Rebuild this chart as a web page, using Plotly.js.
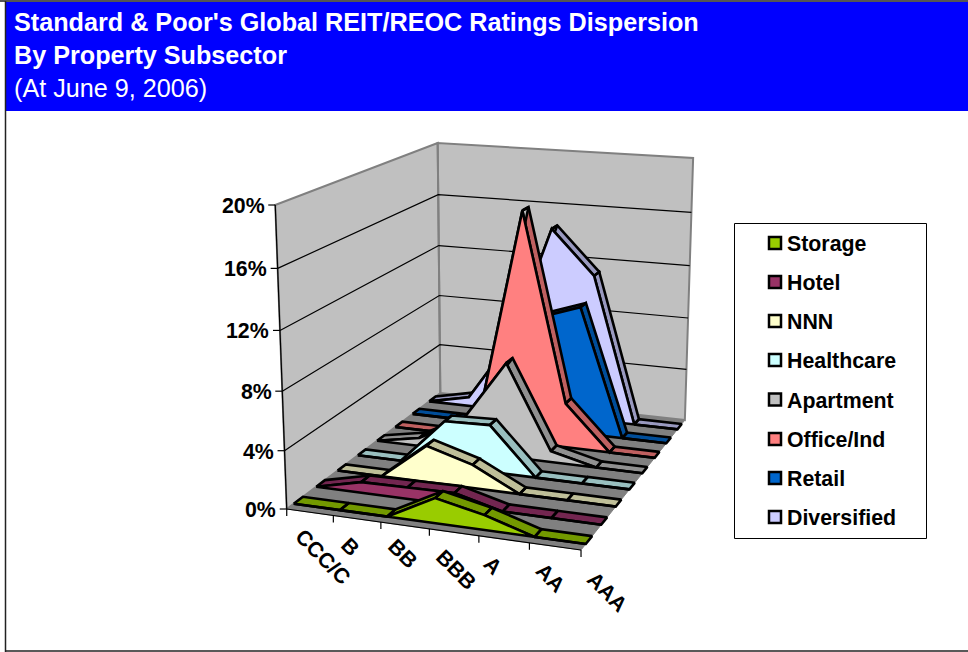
<!DOCTYPE html>
<html>
<head>
<meta charset="utf-8">
<script src="https://cdn.plot.ly/plotly-3.0.1.min.js"></script>
<style>html,body{margin:0;padding:0;background:#fff}#chart{width:968px;height:652px}</style>
</head>
<body>
<div id="chart"></div>
<script>
// Ratings along the front edge of the floor, low to high
const categories = ["CCC/C", "B", "BB", "BBB", "A", "AA", "AAA"];
// Series run from the front of the chart to the back; values are percent of issuers
const seriesNames = ["Storage", "Hotel", "NNN", "Healthcare", "Apartment", "Office/Ind", "Retail", "Diversified"];
const storage     = [0, 0,    0,   1.7,  1.0, 0, 0];
const hotel       = [0, 0.75, 0.8, 0.85, 0,   0, 0];
const nnn         = [0, 0,    2.6, 1.65, 0,   0, 0];
const healthcare  = [0, 0,    3.3, 3.4,  0,   0, 0];
const apartment   = [0, 0.6,  2.3, 6.9,  0.8, 0, 0];
const officeInd   = [0, 0,    1.4, 17.1, 3.3, 0, 0];
const retail      = [0, 0,    0,   8.5,  9.6, 0, 0];
const diversified = [0, 0.7,  5.4, 14.5, 11.2, 0, 0];
const seriesValues = [storage, hotel, nnn, healthcare, apartment, officeInd, retail, diversified];
const faceColors = ["#99CC00", "#993366", "#FFFFCC", "#CCFFFF", "#C0C0C0", "#FF8080", "#0066CC", "#CCCCFF"];
const topColors  = ["#739900", "#732650", "#BFBF99", "#99BFBF", "#909090", "#BF6060", "#004D99", "#9999BF"];
const valueTicks = [0, 4, 8, 12, 16, 20];
const valueMax = 20;

// Projective camera: fitted from where the box corners land on the page (u, depth, height -> px, py)
const boxCorners = [
  [0, 0, 0, 287, 509], [1, 0, 0, 581, 550], [1, 1, 0, 685, 420], [0, 1, 0, 440, 393],
  [0, 0, 1, 275, 205], [0, 1, 1, 438, 143], [1, 1, 1, 693, 158]
];
function solveCamera(pts) {
  const rows = [], rhs = [];
  pts.forEach(([a, b, c, x, y]) => {
    rows.push([a, b, c, 1, 0, 0, 0, 0, -x * a, -x * b, -x * c]); rhs.push(x);
    rows.push([0, 0, 0, 0, a, b, c, 1, -y * a, -y * b, -y * c]); rhs.push(y);
  });
  const n = 11, M = [];
  for (let i = 0; i < n; i++) {
    M.push(new Array(n + 1).fill(0));
    for (let j = 0; j < n; j++) rows.forEach(r => { M[i][j] += r[i] * r[j]; });
    rows.forEach((r, k) => { M[i][n] += r[i] * rhs[k]; });
  }
  for (let i = 0; i < n; i++) {
    let p = i;
    for (let k = i + 1; k < n; k++) if (Math.abs(M[k][i]) > Math.abs(M[p][i])) p = k;
    [M[i], M[p]] = [M[p], M[i]];
    for (let k = 0; k < n; k++) {
      if (k === i) continue;
      const f = M[k][i] / M[i][i];
      for (let j = i; j <= n; j++) M[k][j] -= f * M[i][j];
    }
  }
  return M.map((r, i) => r[n] / r[i]);
}
const cam = solveCamera(boxCorners);
function project(u, depth, value) {
  const h = value / valueMax;
  const w = cam[8] * u + cam[9] * depth + cam[10] * h + 1;
  return [(cam[0] * u + cam[1] * depth + cam[2] * h + cam[3]) / w,
          (cam[4] * u + cam[5] * depth + cam[6] * h + cam[7]) / w];
}

// Builds x/y arrays for a list of rings, separated by gaps
function rings(list) {
  const x = [], y = [];
  list.forEach((ring, i) => {
    if (i) { x.push(null); y.push(null); }
    ring.forEach(p => { x.push(p[0]); y.push(p[1]); });
  });
  return { x, y };
}
function poly(list, fill, lineColor, width) {
  const r = rings(list);
  return { x: r.x, y: r.y, mode: "lines", fill: "toself", fillcolor: fill,
           line: { color: lineColor, width: width, simplify: false }, hoverinfo: "skip", showlegend: false };
}
function strokes(list, color, width) {
  const r = rings(list);
  return { x: r.x, y: r.y, mode: "lines", line: { color: color, width: width, simplify: false },
           hoverinfo: "skip", showlegend: false };
}

const traces = [];
const annotations = [];
const steps = categories.length - 1;

// Box: floor, two walls
traces.push(poly([[project(0,0,0), project(1,0,0), project(1,1,0), project(0,1,0), project(0,0,0)]], "#808080", "#808080", 1));
traces.push(poly([
  [project(0,0,0), project(0,1,0), project(0,1,valueMax), project(0,0,valueMax), project(0,0,0)],
  [project(0,1,0), project(1,1,0), project(1,1,valueMax), project(0,1,valueMax), project(0,1,0)]
], "#C0C0C0", "#808080", 2));

// Gridlines across both walls
traces.push(strokes(valueTicks.filter(v => v > 0 && v < valueMax).map(v =>
  [project(0,0,v), project(0,1,v), project(1,1,v)]), "#000000", 1.2));

// Axis lines and tick marks
traces.push(strokes([[project(0,0,0), project(0,0,valueMax)]], "#000000", 1.2));
traces.push(strokes(valueTicks.map(v => { const p = project(0,0,v); return [[p[0] - 7, p[1]], p]; }), "#000000", 1.2));
traces.push(strokes([[project(0,0,0), project(1,0,0)]], "#000000", 1.2));
traces.push(strokes(categories.map((c, k) => { const p = project(k / steps,0,0); return [p, [p[0], p[1] + 7]]; }), "#000000", 1.2));

// Ribbons, back to front: sloped top faces first, then the upright front face
const slabFront = 0.3, slabBack = 0.7;
const ribbonLine = 2.6;
for (let i = seriesNames.length - 1; i >= 0; i--) {
  const vals = seriesValues[i];
  const sf = (i + slabFront) / seriesNames.length, sb = (i + slabBack) / seriesNames.length;
  const tops = [];
  for (let k = 0; k < steps; k++) {
    const a = k / steps, b = (k + 1) / steps;
    tops.push([project(a,sf,vals[k]), project(b,sf,vals[k+1]), project(b,sb,vals[k+1]), project(a,sb,vals[k]), project(a,sf,vals[k])]);
  }
  traces.push(poly(tops, topColors[i], "#000000", ribbonLine));
  const face = vals.map((v, k) => project(k / steps, sf, v));
  face.push(project(1,sf,0), project(0,sf,0), face[0]);
  const t = poly([face], faceColors[i], "#000000", ribbonLine);
  t.name = seriesNames[i];
  traces.push(t);
}

const labelFont = { family: "Liberation Sans, Arial, sans-serif", size: 21.33, color: "#000000" };

// Value axis labels
valueTicks.forEach(v => {
  const p = project(0,0,v);
  annotations.push({ x: p[0] - 8.5, y: p[1] + 1, xref: "x", yref: "y", text: "<b>" + v + "%</b>", showarrow: false,
    xanchor: "right", yanchor: "middle", font: labelFont });
});
// Rating labels, slanted under the front edge
const categoryLabelOffsets = [[36, 48], [17, 31], [22, 32], [27, 41], [14, 30], [21, 35], [26, 42]];
categories.forEach((c, k) => {
  const p = project(k / steps,0,0);
  annotations.push({ x: p[0] + categoryLabelOffsets[k][0], y: p[1] + categoryLabelOffsets[k][1], xref: "x", yref: "y",
    text: "<b>" + c + "</b>", showarrow: false, textangle: 45, font: labelFont });
});

// Key on the right, first series at the top
const keyX = 775, keyY = [243, 282, 321, 360, 399.5, 439, 478, 517];
traces.push({ x: keyY.map(() => keyX), y: keyY, mode: "markers",
  marker: { symbol: "square", size: 12, color: faceColors, line: { color: "#000000", width: 2.5 } },
  hoverinfo: "skip", showlegend: false });
seriesNames.forEach((n, i) => {
  annotations.push({ x: 785, y: keyY[i] + 1, xref: "x", yref: "y", text: "<b>" + n + "</b>", showarrow: false,
    xanchor: "left", yanchor: "middle", font: labelFont });
});

const layout = {
  width: 968, height: 652,
  margin: { l: 0, r: 0, t: 0, b: 0 },
  paper_bgcolor: "#ffffff", plot_bgcolor: "rgba(0,0,0,0)",
  showlegend: false,
  title: {
    text: "<b>Standard &amp; Poor's Global REIT/REOC Ratings Dispersion</b><br><b>By Property Subsector</b><br>(At June 9, 2006)",
    x: 14 / 968, xref: "paper", xanchor: "left", y: 0.952, yanchor: "top", yref: "paper",
    font: { family: "Liberation Sans, Arial, sans-serif", size: 25.2, color: "#ffffff" }
  },
  xaxis: { range: [0, 968], visible: false, fixedrange: true },
  yaxis: { range: [652, 0], visible: false, fixedrange: true },
  shapes: [
    { type: "rect", xref: "x", yref: "y", x0: 6, x1: 968, y0: 2, y1: 111, fillcolor: "#0000FF", line: { width: 0 }, layer: "below" },
    { type: "line", xref: "x", yref: "y", x0: 0, x1: 968, y0: 1, y1: 1, line: { color: "#555555", width: 2 }, layer: "below" },
    { type: "line", xref: "x", yref: "y", x0: 5.5, x1: 5.5, y0: 1, y1: 652, line: { color: "#222222", width: 1.5 }, layer: "below" },
    { type: "line", xref: "x", yref: "y", x0: 5, x1: 968, y0: 651, y1: 651, line: { color: "#222222", width: 1.5 }, layer: "below" },
    { type: "rect", xref: "x", yref: "y", x0: 734.5, x1: 926.5, y0: 223.5, y1: 538.5, fillcolor: "#ffffff", line: { color: "#000000", width: 1 }, layer: "below" }
  ],
  annotations: annotations
};
Plotly.newPlot("chart", traces, layout, { displayModeBar: false, staticPlot: true });
</script>
</body>
</html>
